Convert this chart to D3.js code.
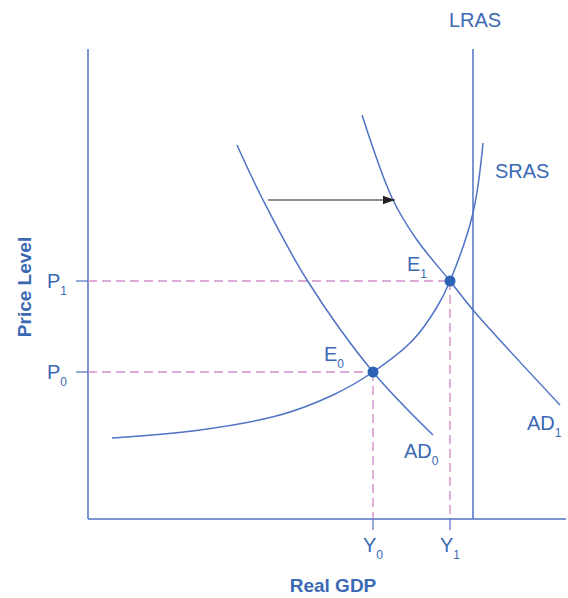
<!DOCTYPE html>
<html>
<head>
<meta charset="utf-8">
<script src="https://cdn.jsdelivr.net/npm/d3@7"></script>
<style>
  body { margin: 0; background: #fff; }
  text { font-family: "Liberation Sans", Arial, sans-serif; }
</style>
</head>
<body>
<div id="chart"></div>
<script>
// curve points (real GDP, price level)
let srasX = [4.8, 22.4, 38.4, 49, 57, 65, 69.8, 72.4, 77, 79];
let srasY = [16.2, 17.8, 20.8, 24.8, 29.4, 35.8, 42.4, 47.6, 61.2, 75.2];
let ad0X = [29.8, 35, 43.8, 57, 69];
let ad0Y = [74.8, 63.8, 47.8, 29.4, 16.8];
let ad1X = [54.8, 61, 65.8, 72.4, 77, 94.4];
let ad1Y = [80.8, 63.8, 55.8, 47.6, 41.8, 22.8];
let lrasX = 77;
let eqNames = ["0", "1"];
let eqX = [57, 72.4];
let eqY = [29.4, 47.6];
let shiftFrom = [36, 63.8], shiftTo = [61.4, 63.8];

const W = 568, H = 598;
const lineCol = "#4f72c4", textCol = "#3b69b3", dashCol = "#d48fca";

let x = d3.scaleLinear().domain([0, 96]).range([88, 568]);
let y = d3.scaleLinear().domain([0, 94]).range([519, 49]);

var svg = d3.select("#chart").append("svg")
    .attr("width", W)
    .attr("height", H);

svg.append("defs").append("marker")
    .attr("id", "arr")
    .attr("viewBox", "0 0 10 10")
    .attr("refX", 10).attr("refY", 5)
    .attr("markerWidth", 12).attr("markerHeight", 12)
    .attr("markerUnits", "userSpaceOnUse")
    .attr("orient", "auto")
    .append("path")
    .attr("d", "M0,1.5L10,5L0,8.5Z")
    .attr("fill", "#222");

// axes
svg.append("line")
    .attr("x1", x(0)).attr("x2", x(0))
    .attr("y1", y(94)).attr("y2", y(0))
    .attr("stroke", lineCol).attr("stroke-width", 1.5);
svg.append("line")
    .attr("x1", x(0)).attr("x2", x(95.6))
    .attr("y1", y(0)).attr("y2", y(0))
    .attr("stroke", lineCol).attr("stroke-width", 1.5);

// dashed guides
eqX.forEach(function(d, i) {
    svg.append("line")
        .attr("x1", x(0)).attr("x2", x(d))
        .attr("y1", y(eqY[i])).attr("y2", y(eqY[i]))
        .attr("stroke", dashCol).attr("stroke-width", 1.4)
        .attr("stroke-dasharray", "9,5");
    svg.append("line")
        .attr("x1", x(d)).attr("x2", x(d))
        .attr("y1", y(eqY[i])).attr("y2", y(0))
        .attr("stroke", dashCol).attr("stroke-width", 1.4)
        .attr("stroke-dasharray", "9,5");
    // ticks
    svg.append("line")
        .attr("x1", x(0) - 12).attr("x2", x(0))
        .attr("y1", y(eqY[i])).attr("y2", y(eqY[i]))
        .attr("stroke", lineCol).attr("stroke-width", 1.2);
    svg.append("line")
        .attr("x1", x(d)).attr("x2", x(d))
        .attr("y1", y(0)).attr("y2", y(0) + 11)
        .attr("stroke", lineCol).attr("stroke-width", 1.2);
});

// LRAS
svg.append("line")
    .attr("x1", x(lrasX)).attr("x2", x(lrasX))
    .attr("y1", y(94)).attr("y2", y(0))
    .attr("stroke", lineCol).attr("stroke-width", 1.5);

let curve = d3.line()
    .x(function(d) { return x(d[0]); })
    .y(function(d) { return y(d[1]); })
    .curve(d3.curveCatmullRom.alpha(0.5));

[[srasX, srasY], [ad0X, ad0Y], [ad1X, ad1Y]].forEach(function(c) {
    svg.append("path")
        .attr("d", curve(d3.zip(c[0], c[1])))
        .attr("fill", "none")
        .attr("stroke", lineCol)
        .attr("stroke-width", 1.5);
});

// shift arrow
svg.append("line")
    .attr("x1", x(shiftFrom[0])).attr("y1", y(shiftFrom[1]))
    .attr("x2", x(shiftTo[0])).attr("y2", y(shiftTo[1]))
    .attr("stroke", "#222").attr("stroke-width", 1.2)
    .attr("marker-end", "url(#arr)");

// equilibrium dots
svg.selectAll("circle.eq")
    .data(eqX)
    .enter().append("circle")
    .attr("class", "eq")
    .attr("cx", function(d) { return x(d); })
    .attr("cy", function(d, i) { return y(eqY[i]); })
    .attr("r", 5.5)
    .attr("fill", "#2e62b5");

function label(tx, ty, main, sub, anchor) {
    let t = svg.append("text")
        .attr("x", tx).attr("y", ty)
        .attr("fill", textCol)
        .attr("font-size", 20)
        .attr("text-anchor", anchor || "start");
    t.append("tspan").text(main);
    if (sub != null) {
        t.append("tspan").attr("font-size", 12).attr("dy", 7).text(sub);
    }
    return t;
}

label(x(lrasX) + 2, 27, "LRAS", null, "middle");
label(495, 178, "SRAS");
label(407, 271, "E", eqNames[1]);
label(324, 361, "E", eqNames[0]);
label(404, 458, "AD", eqNames[0]);
label(527, 430, "AD", eqNames[1]);

eqY.forEach(function(d, i) {
    label(47, y(d) + 7, "P", eqNames[i]);
});
eqX.forEach(function(d, i) {
    label(x(d) - 10, 552, "Y", eqNames[i]);
});

svg.append("text")
    .attr("transform", "translate(31," + 287 + ") rotate(-90)")
    .attr("text-anchor", "middle")
    .attr("fill", textCol)
    .attr("font-size", 19)
    .attr("font-weight", "bold")
    .text("Price Level");

svg.append("text")
    .attr("x", 333).attr("y", 592)
    .attr("text-anchor", "middle")
    .attr("fill", textCol)
    .attr("font-size", 19)
    .attr("font-weight", "bold")
    .text("Real GDP");
</script>
</body>
</html>
